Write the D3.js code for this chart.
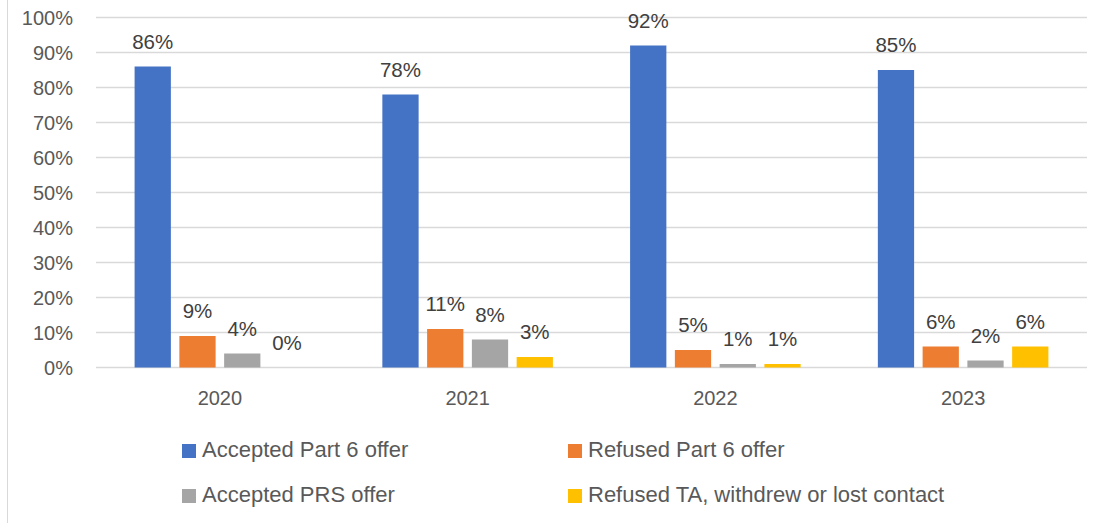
<!DOCTYPE html>
<html>
<head>
<meta charset="utf-8">
<script src="https://cdn.jsdelivr.net/npm/d3@7"></script>
<style>
  body { margin: 0; background: #fff; }
  svg { display: block; font-family: "Liberation Sans", Arial, sans-serif; }
  .label { fill: #404040; }
  .tick-text { fill: #595959; }
</style>
</head>
<body>
<div id="chart"></div>
<script>
const years = ['2020', '2021', '2022', '2023'];
const seriesNames = ['Accepted Part 6 offer', 'Refused Part 6 offer', 'Accepted PRS offer', 'Refused TA, withdrew or lost contact'];
const acceptedPart6 = [86, 78, 92, 85];
const refusedPart6 = [9, 11, 5, 6];
const acceptedPRS = [4, 8, 1, 2];
const refusedTA = [0, 3, 1, 6];
const yTicks = [0, 10, 20, 30, 40, 50, 60, 70, 80, 90, 100];
const colors = ['#4472C4', '#ED7D31', '#A5A5A5', '#FFC000'];

const width = 1108, height = 523;
const values = [acceptedPart6, refusedPart6, acceptedPRS, refusedTA];

const svg = d3.select('#chart').append('svg')
  .attr('width', width)
  .attr('height', height);

// light frame edge on the left
svg.append('line')
  .attr('x1', 7.5).attr('x2', 7.5)
  .attr('y1', 0).attr('y2', height)
  .attr('stroke', '#d9d9d9')
  .attr('stroke-width', 1);

const x = d3.scaleBand().domain(years).range([96, 1087]);
const y = d3.scaleLinear().domain([0, 100]).range([367.5, 17.5]);
const inner = d3.scaleBand()
  .domain(d3.range(seriesNames.length))
  .range([38.6, x.bandwidth() - 38.6])
  .paddingInner(0.19)
  .paddingOuter(0);

// gridlines
svg.append('g')
  .selectAll('line')
  .data(yTicks)
  .enter()
  .append('line')
  .attr('x1', 96).attr('x2', 1087)
  .attr('y1', d => y(d)).attr('y2', d => y(d))
  .attr('stroke', '#d9d9d9')
  .attr('stroke-width', 1.3);

// y tick labels
svg.append('g')
  .selectAll('text')
  .data(yTicks)
  .enter()
  .append('text')
  .attr('class', 'tick-text')
  .attr('x', 73)
  .attr('y', d => y(d) + 7)
  .attr('text-anchor', 'end')
  .attr('font-size', 20)
  .text(d => d + '%');

// x labels
svg.append('g')
  .selectAll('text')
  .data(years)
  .enter()
  .append('text')
  .attr('class', 'tick-text')
  .attr('x', d => x(d) + x.bandwidth() / 2)
  .attr('y', 405)
  .attr('text-anchor', 'middle')
  .attr('font-size', 20)
  .text(d => d);

// bars
const groups = svg.append('g')
  .selectAll('g')
  .data(years)
  .enter()
  .append('g')
  .attr('transform', d => `translate(${x(d)},0)`);

groups.selectAll('rect')
  .data((d, yi) => values.map((s, si) => ({ si, v: s[yi] })))
  .enter()
  .append('rect')
  .attr('x', d => inner(d.si))
  .attr('width', inner.bandwidth())
  .attr('y', d => y(d.v))
  .attr('height', d => y(0) - y(d.v))
  .attr('fill', d => colors[d.si]);

groups.selectAll('text')
  .data((d, yi) => values.map((s, si) => ({ si, v: s[yi] })))
  .enter()
  .append('text')
  .attr('class', 'label')
  .attr('x', d => inner(d.si) + inner.bandwidth() / 2)
  .attr('y', d => y(d.v) - 18)
  .attr('text-anchor', 'middle')
  .attr('font-size', 20.5)
  .text(d => d.v + '%');

// legend
const legendPos = [[182, 444], [568, 444], [182, 489], [568, 489]];
const legend = svg.append('g').attr('id', 'legend');
const items = legend.selectAll('g')
  .data(seriesNames)
  .enter()
  .append('g')
  .attr('transform', (d, i) => `translate(${legendPos[i][0]},${legendPos[i][1]})`);

items.append('rect')
  .attr('width', 14)
  .attr('height', 14)
  .attr('fill', (d, i) => colors[i]);

items.append('text')
  .attr('class', 'tick-text')
  .attr('x', 20)
  .attr('y', 13)
  .attr('font-size', 22)
  .text(d => d);
</script>
</body>
</html>
